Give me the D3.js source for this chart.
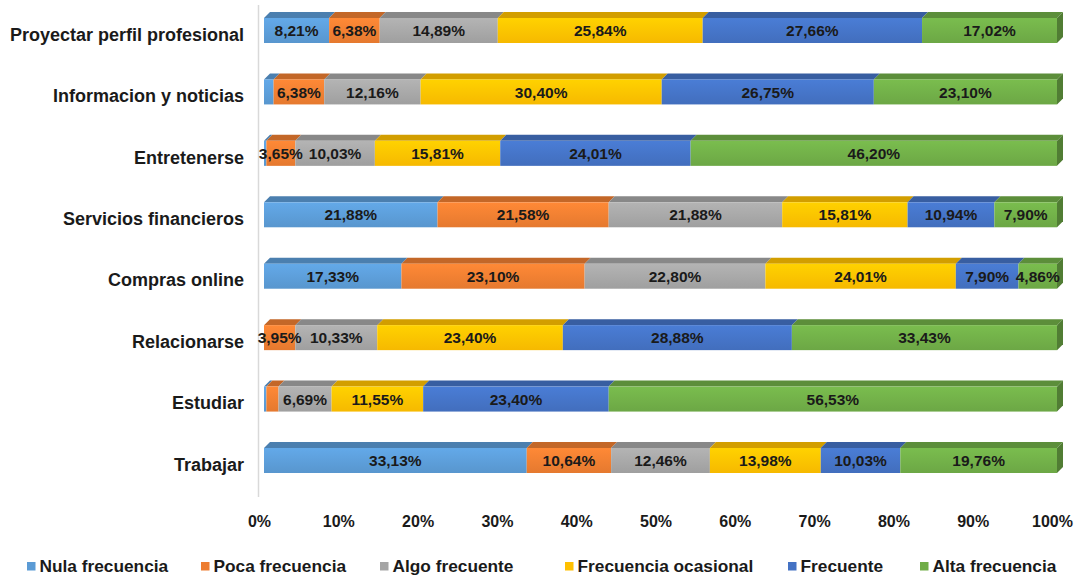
<!DOCTYPE html>
<html>
<head>
<meta charset="utf-8">
<script src="https://cdn.jsdelivr.net/npm/d3@7"></script>
<style>
  html, body { margin: 0; padding: 0; background: #ffffff; }
  svg { display: block; font-family: "Liberation Sans", Arial, sans-serif; }
</style>
</head>
<body>
<svg id="chart" width="1076" height="580"></svg>
<script>
// Uses of the internet, share of respondents by frequency (%)
const categories = [
  "Proyectar perfil profesional",
  "Informacion y noticias",
  "Entretenerse",
  "Servicios financieros",
  "Compras online",
  "Relacionarse",
  "Estudiar",
  "Trabajar"
];
const seriesNames = [
  "Nula frecuencia",
  "Poca frecuencia",
  "Algo frecuente",
  "Frecuencia ocasional",
  "Frecuente",
  "Alta frecuencia"
];
const nula      = [8.21, 1.21, 0.30, 21.88, 17.33, 0.00, 0.30, 33.13];
const poca      = [6.38, 6.38, 3.65, 21.58, 23.10, 3.95, 1.53, 10.64];
const algo      = [14.89, 12.16, 10.03, 21.88, 22.80, 10.33, 6.69, 12.46];
const ocasional = [25.84, 30.40, 15.81, 15.81, 24.01, 23.40, 11.55, 13.98];
const frecuente = [27.66, 26.75, 24.01, 10.94, 7.90, 28.88, 23.40, 10.03];
const alta      = [17.02, 23.10, 46.20, 7.90, 4.86, 33.43, 56.53, 19.76];
const tickValues = [0, 0.1, 0.2, 0.3, 0.4, 0.5, 0.6, 0.7, 0.8, 0.9, 1];

const palette = ["#5B9BD5", "#ED7D31", "#A5A5A5", "#FFC000", "#4472C4", "#70AD47"];

const seriesValues = [nula, poca, algo, ocasional, frecuente, alta];
const rows = categories.map((c, i) => {
  const r = { category: c };
  seriesNames.forEach((s, k) => { r[s] = seriesValues[k][i]; });
  return r;
});

const stacked = d3.stack()
  .keys(seriesNames)
  .offset(d3.stackOffsetExpand)(rows);

const svg = d3.select("#chart");
const defs = svg.append("defs");

// bar geometry
const barH = 25;
const depthX = 6, depthY = 6;

const x = d3.scaleLinear().domain([0, 1]).range([264, 1057]);
const xTicks = d3.scaleLinear().domain([0, 1]).range([259, 1052]);
const y = d3.scalePoint().domain(categories).range([30.5, 460.5]);
const color = d3.scaleOrdinal().domain(seriesNames).range(palette);

// front-face gradients
seriesNames.forEach((s, k) => {
  const base = d3.color(palette[k]);
  const g = defs.append("linearGradient")
    .attr("id", "grad" + k)
    .attr("x1", 0).attr("y1", 0).attr("x2", 0).attr("y2", 1);
  g.append("stop").attr("offset", "0%").attr("stop-color", base.brighter(0.25));
  g.append("stop").attr("offset", "100%").attr("stop-color", base.darker(0.1));
});

// category axis line
svg.append("line")
  .attr("x1", 258.5).attr("x2", 258.5)
  .attr("y1", 5).attr("y2", 497)
  .attr("stroke", "#d9d9d9").attr("stroke-width", 1.5);

const layers = svg.append("g").attr("class", "bars");

stacked.forEach((layer, k) => {
  const g = layers.append("g").attr("class", "series");
  const base = d3.color(palette[k]);
  const topCol = base.darker(0.55);
  const sideCol = base.darker(0.9);

  layer.forEach((seg, i) => {
    const x0 = x(seg[0]), x1 = x(seg[1]);
    if (x1 - x0 <= 0.01) return;
    const yTop = y(categories[i]) - barH / 2;
    const yBot = yTop + barH;

    // top face
    g.append("path")
      .attr("d", `M${x0},${yTop}L${x1},${yTop}L${x1 + depthX},${yTop - depthY}L${x0 + depthX},${yTop - depthY}Z`)
      .attr("fill", topCol);

    // front face
    g.append("rect")
      .attr("x", x0).attr("y", yTop)
      .attr("width", x1 - x0).attr("height", barH)
      .attr("fill", `url(#grad${k})`);

    // right side of the last segment
    if (k === stacked.length - 1) {
      g.append("path")
        .attr("d", `M${x1},${yTop}L${x1 + depthX},${yTop - depthY}L${x1 + depthX},${yBot - depthY}L${x1},${yBot}Z`)
        .attr("fill", sideCol);
    }
  });
});

// value labels
const labels = svg.append("g").attr("class", "labels");
stacked.forEach((layer, k) => {
  layer.forEach((seg, i) => {
    const v = seriesValues[k][i];
    if (v < 2) return;
    labels.append("text")
      .attr("x", (x(seg[0]) + x(seg[1])) / 2)
      .attr("y", y(categories[i]) + 1.5)
      .attr("text-anchor", "middle")
      .attr("dominant-baseline", "middle")
      .attr("font-size", 15.5)
      .attr("font-weight", "bold")
      .attr("fill", "#1a1a1a")
      .text(v.toFixed(2).replace(".", ",") + "%");
  });
});

// category labels
svg.append("g").selectAll("text")
  .data(categories)
  .join("text")
  .attr("x", 244)
  .attr("y", d => y(d) + 5.5)
  .attr("text-anchor", "end")
  .attr("dominant-baseline", "middle")
  .attr("font-size", 18)
  .attr("font-weight", "bold")
  .attr("fill", "#1a1a1a")
  .text(d => d);

// value axis
const axis = d3.axisBottom(xTicks)
  .tickValues(tickValues)
  .tickFormat(d3.format(".0%"))
  .tickSize(0);
const axisG = svg.append("g")
  .attr("transform", "translate(0,510)")
  .call(axis);
axisG.select(".domain").remove();
axisG.selectAll("text")
  .attr("font-family", "Liberation Sans, Arial, sans-serif")
  .attr("font-size", 16)
  .attr("font-weight", "bold")
  .attr("fill", "#1a1a1a")
  .attr("dy", "0.9em");

// legend: marker x positions for each entry
const legendX = [27, 201, 380, 565, 788, 920];
const legend = svg.append("g").attr("class", "legend");
seriesNames.forEach((s, k) => {
  const item = legend.append("g").attr("transform", `translate(${legendX[k]},0)`);
  item.append("rect")
    .attr("x", 0).attr("y", 562)
    .attr("width", 8.5).attr("height", 8.5)
    .attr("fill", color(s));
  item.append("text")
    .attr("x", 12.5).attr("y", 567)
    .attr("dominant-baseline", "middle")
    .attr("font-size", 17.3)
    .attr("font-weight", "bold")
    .attr("fill", "#1a1a1a")
    .text(s);
});
</script>
</body>
</html>
